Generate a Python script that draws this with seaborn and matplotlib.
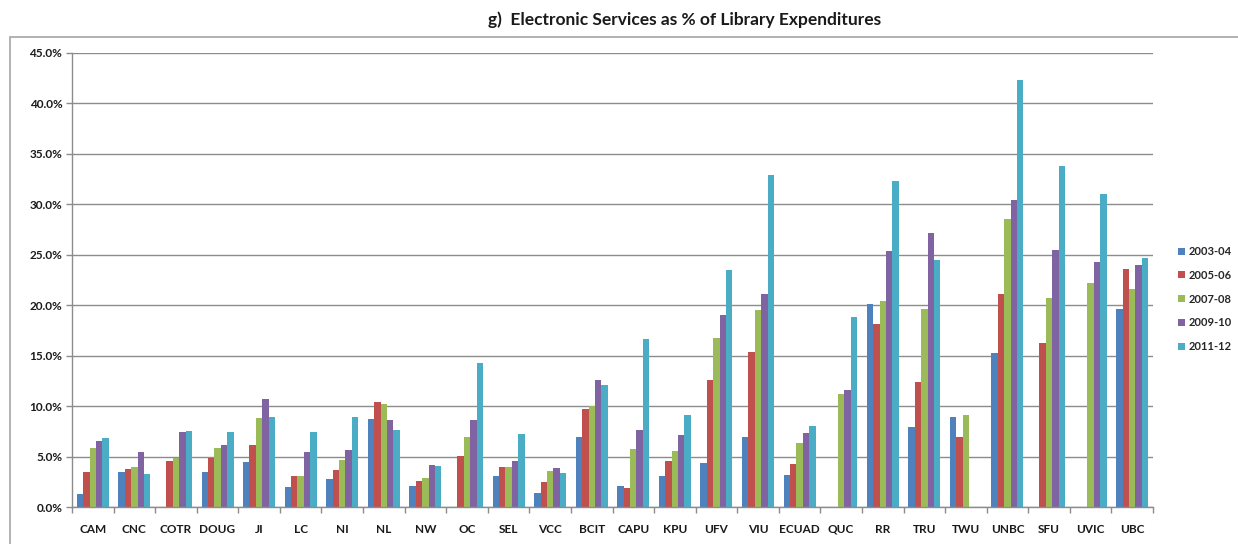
import numpy as np
import pandas as pd
import matplotlib
matplotlib.use("Agg")
import matplotlib.pyplot as plt
import seaborn as sns
from matplotlib.patches import Rectangle
from matplotlib.ticker import FuncFormatter, MultipleLocator, FixedLocator

nan = np.nan

institutions = ["CAM", "CNC", "COTR", "DOUG", "JI", "LC", "NI", "NL", "NW", "OC",
                "SEL", "VCC", "BCIT", "CAPU", "KPU", "UFV", "VIU", "ECUAD", "QUC",
                "RR", "TRU", "TWU", "UNBC", "SFU", "UVIC", "UBC"]
years = ["2003-04", "2005-06", "2007-08", "2009-10", "2011-12"]

# Electronic services spending as a share of total library expenditures (%)
pct_2003_04 = [1.3, 3.5, nan, 3.5, 4.5, 2.0, 2.8, 8.7, 2.1, nan,
               3.1, 1.4, 6.9, 2.1, 3.1, 4.4, 6.9, 3.2, nan,
               20.1, 7.9, 8.9, 15.3, nan, nan, 19.6]
pct_2005_06 = [3.5, 3.8, 4.6, 4.9, 6.1, 3.1, 3.7, 10.4, 2.6, 5.1,
               4.0, 2.5, 9.7, 1.9, 4.6, 12.6, 15.4, 4.3, nan,
               18.1, 12.4, 6.9, 21.1, 16.2, nan, 23.6]
pct_2007_08 = [5.8, 4.0, 4.9, 5.8, 8.8, 3.1, 4.7, 10.2, 2.9, 6.9,
               4.0, 3.6, 10.0, 5.7, 5.5, 16.7, 19.5, 6.3, 11.2,
               20.4, 19.6, 9.1, 28.5, 20.7, 22.2, 21.6]
pct_2009_10 = [6.5, 5.4, 7.4, 6.1, 10.7, 5.4, 5.6, 8.6, 4.2, 8.6,
               4.6, 3.9, 12.6, 7.6, 7.1, 19.0, 21.1, 7.3, 11.6,
               25.4, 27.1, nan, 30.4, 25.5, 24.3, 24.0]
pct_2011_12 = [6.8, 3.3, 7.5, 7.4, 8.9, 7.4, 8.9, 7.6, 4.1, 14.3,
               7.2, 3.4, 12.1, 16.6, 9.1, 23.5, 32.9, 8.0, 18.8,
               32.3, 24.5, nan, 42.3, 33.8, 31.0, 24.7]

series = [pct_2003_04, pct_2005_06, pct_2007_08, pct_2009_10, pct_2011_12]
colors = ["#4F81BD", "#C0504D", "#9BBB59", "#8064A2", "#4BACC6"]

rows = []
for yr, vals in zip(years, series):
    for inst, v in zip(institutions, vals):
        rows.append({"Institution": inst, "Year": yr, "Pct": v})
df = pd.DataFrame(rows).dropna()

sns.set_theme(style="white")
plt.rcParams["font.family"] = ["Lato", "DejaVu Sans"]

fig = plt.figure(figsize=(12.38, 5.44), dpi=100)
ax = fig.add_axes([72 / 1238, 1 - 507 / 544, (1153 - 72) / 1238, (507 - 52.7) / 544])

sns.barplot(data=df, x="Institution", y="Pct", hue="Year",
            order=institutions, hue_order=years, palette=colors,
            saturation=1, width=0.77, errorbar=None, linewidth=0, ax=ax)

ax.set_xlim(-0.5, len(institutions) - 0.5)
ax.set_ylim(0, 45)
ax.yaxis.set_major_locator(MultipleLocator(5))
ax.yaxis.set_major_formatter(FuncFormatter(lambda v, p: f"{v:.1f}%"))
ax.grid(axis="y", color="#8c8c8c", linewidth=1.0)
ax.set_axisbelow(True)
ax.set_xlabel("")
ax.set_ylabel("")

for side in ["top", "right"]:
    ax.spines[side].set_visible(False)
for side in ["left", "bottom"]:
    ax.spines[side].set_color("#8c8c8c")
    ax.spines[side].set_linewidth(1.0)

# Category ticks sit between the groups
ax.xaxis.set_minor_locator(FixedLocator(np.arange(-0.5, len(institutions), 1.0)))
ax.tick_params(axis="x", which="major", length=0, pad=12, labelsize=8.5)
ax.tick_params(axis="x", which="minor", length=4, width=1, color="#8c8c8c", direction="out", bottom=True)
ax.tick_params(axis="y", which="major", length=4, width=1, color="#8c8c8c", direction="out", left=True,
               labelsize=8.5, pad=3)
for lbl in ax.get_xticklabels() + ax.get_yticklabels():
    lbl.set_fontweight("bold")
    lbl.set_color("#1a1a1a")

handles, labels = ax.get_legend_handles_labels()
ax.legend_.remove()
fig.legend(handles, labels, loc="upper left", bbox_to_anchor=(1168 / 1238, 1 - 236 / 544),
           frameon=False, handlelength=0.6, handleheight=0.6, handletextpad=0.35,
           labelspacing=1.15, prop={"size": 8, "weight": "bold"})

fig.text(685 / 1238, 1 - 20 / 544, "g)  Electronic Services as % of Library Expenditures",
         ha="center", va="center", fontsize=12.5, fontweight="bold", color="#1a1a1a")

fig.patches.append(Rectangle((10 / 1238, -0.05), 1.2, 1 - 37 / 544 + 0.05,
                             transform=fig.transFigure, fill=False,
                             edgecolor="#a6a6a6", linewidth=1.2))

fig.savefig("out.png", dpi=100)
